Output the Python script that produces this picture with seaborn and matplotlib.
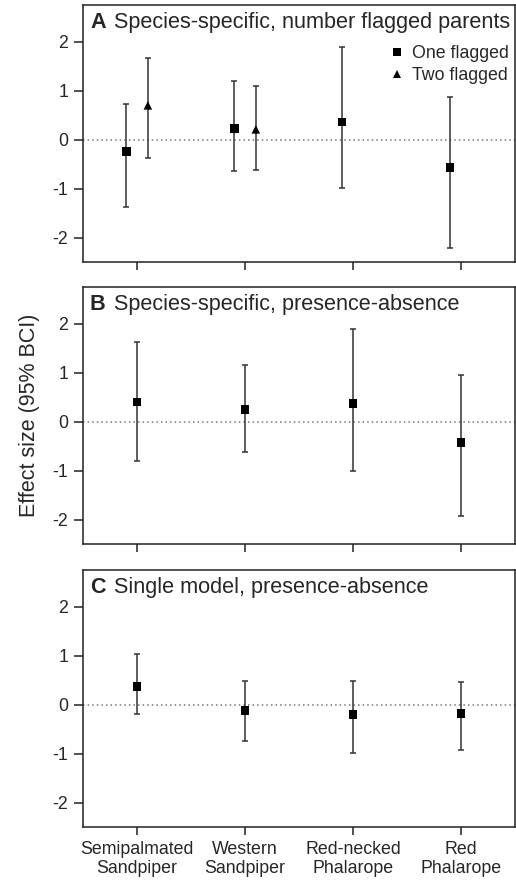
import numpy as np
import pandas as pd
import seaborn as sns
import matplotlib.pyplot as plt

# species on the x axis
species = ["Semipalmated\nSandpiper", "Western\nSandpiper",
           "Red-necked\nPhalarope", "Red\nPhalarope"]

# panel A: number of flagged parents
a_one_est = [-0.24, 0.23, 0.36, -0.57]
a_one_lo = [-1.37, -0.65, -0.99, -2.22]
a_one_hi = [0.73, 1.20, 1.90, 0.88]
a_two_est = [0.70, 0.21]
a_two_lo = [-0.38, -0.62]
a_two_hi = [1.66, 1.10]

# panel B: species-specific, presence-absence
b_est = [0.40, 0.25, 0.37, -0.43]
b_lo = [-0.81, -0.63, -1.01, -1.92]
b_hi = [1.62, 1.15, 1.89, 0.95]

# panel C: single model, presence-absence
c_est = [0.37, -0.12, -0.20, -0.18]
c_lo = [-0.20, -0.74, -0.98, -0.92]
c_hi = [1.03, 0.48, 0.49, 0.47]

titles = ["Species-specific, number flagged parents",
          "Species-specific, presence-absence",
          "Single model, presence-absence"]
letters = ["A", "B", "C"]

sns.set_theme(style="white")
plt.rcParams["font.family"] = ["Liberation Sans", "DejaVu Sans"]
plt.rcParams["axes.unicode_minus"] = False

# build a long table for each panel
rows = []
for i in range(4):
    rows.append(("A", i + 1 - 0.1, a_one_est[i], a_one_lo[i], a_one_hi[i], "One flagged"))
for i in range(2):
    rows.append(("A", i + 1 + 0.1, a_two_est[i], a_two_lo[i], a_two_hi[i], "Two flagged"))
for i in range(4):
    rows.append(("B", i + 1, b_est[i], b_lo[i], b_hi[i], "One flagged"))
    rows.append(("C", i + 1, c_est[i], c_lo[i], c_hi[i], "One flagged"))
df = pd.DataFrame(rows, columns=["panel", "x", "est", "lo", "hi", "group"])

fig = plt.figure(figsize=(5.16, 8.84), dpi=100)
boxes = [[0.161, 0.7036, 0.837, 0.2907],
         [0.161, 0.3846, 0.837, 0.2907],
         [0.161, 0.0645, 0.837, 0.2907]]

for k, p in enumerate(letters):
    ax = fig.add_axes(boxes[k])
    d = df[df.panel == p]
    ax.axhline(0, color="#777777", ls=(0, (1, 2)), lw=1.1, zorder=1)
    ax.errorbar(d.x, d.est, yerr=[d.est - d.lo, d.hi - d.est], fmt="none",
                ecolor="#333333", elinewidth=1.1, capsize=2.5, capthick=1.1, zorder=2)
    sns.scatterplot(data=d, x="x", y="est", style="group",
                    markers={"One flagged": "s", "Two flagged": "^"},
                    color="black", s=38, edgecolor="black", linewidth=0,
                    legend=(p == "A"), ax=ax, zorder=3)
    ax.set_xlim(0.5, 4.5)
    ax.set_ylim(-2.5, 2.75)
    ax.set_yticks([-2, -1, 0, 1, 2])
    ax.set_xticks([1, 2, 3, 4])
    if p == "C":
        ax.set_xticklabels(species, fontsize=12.3)
    else:
        ax.set_xticklabels([])
    ax.tick_params(axis="both", direction="out", length=6.5, width=1.1,
                   color="#222222", labelsize=12.8, pad=4, left=True, bottom=True)
    ax.tick_params(axis="x", length=6, pad=4)
    for s in ax.spines.values():
        s.set_color("#222222")
        s.set_linewidth(1.1)
    ax.set_xlabel("")
    ax.set_ylabel("")
    ax.text(0.016, 0.972, p, transform=ax.transAxes, fontsize=15.6,
            fontweight="bold", va="top", ha="left")
    ax.text(0.072, 0.972, titles[k], transform=ax.transAxes, fontsize=15.6,
            va="top", ha="left")
    if p == "A":
        ax.legend(loc="upper right", bbox_to_anchor=(1.022, 0.905), frameon=False,
                  fontsize=12.8, handletextpad=0.2, labelspacing=0.25,
                  markerscale=1.0, handlelength=1.2)
    if p == "B":
        ax.set_ylabel("Effect size (95% BCI)", fontsize=15.5, labelpad=9)

fig.savefig("out.png", dpi=100)
